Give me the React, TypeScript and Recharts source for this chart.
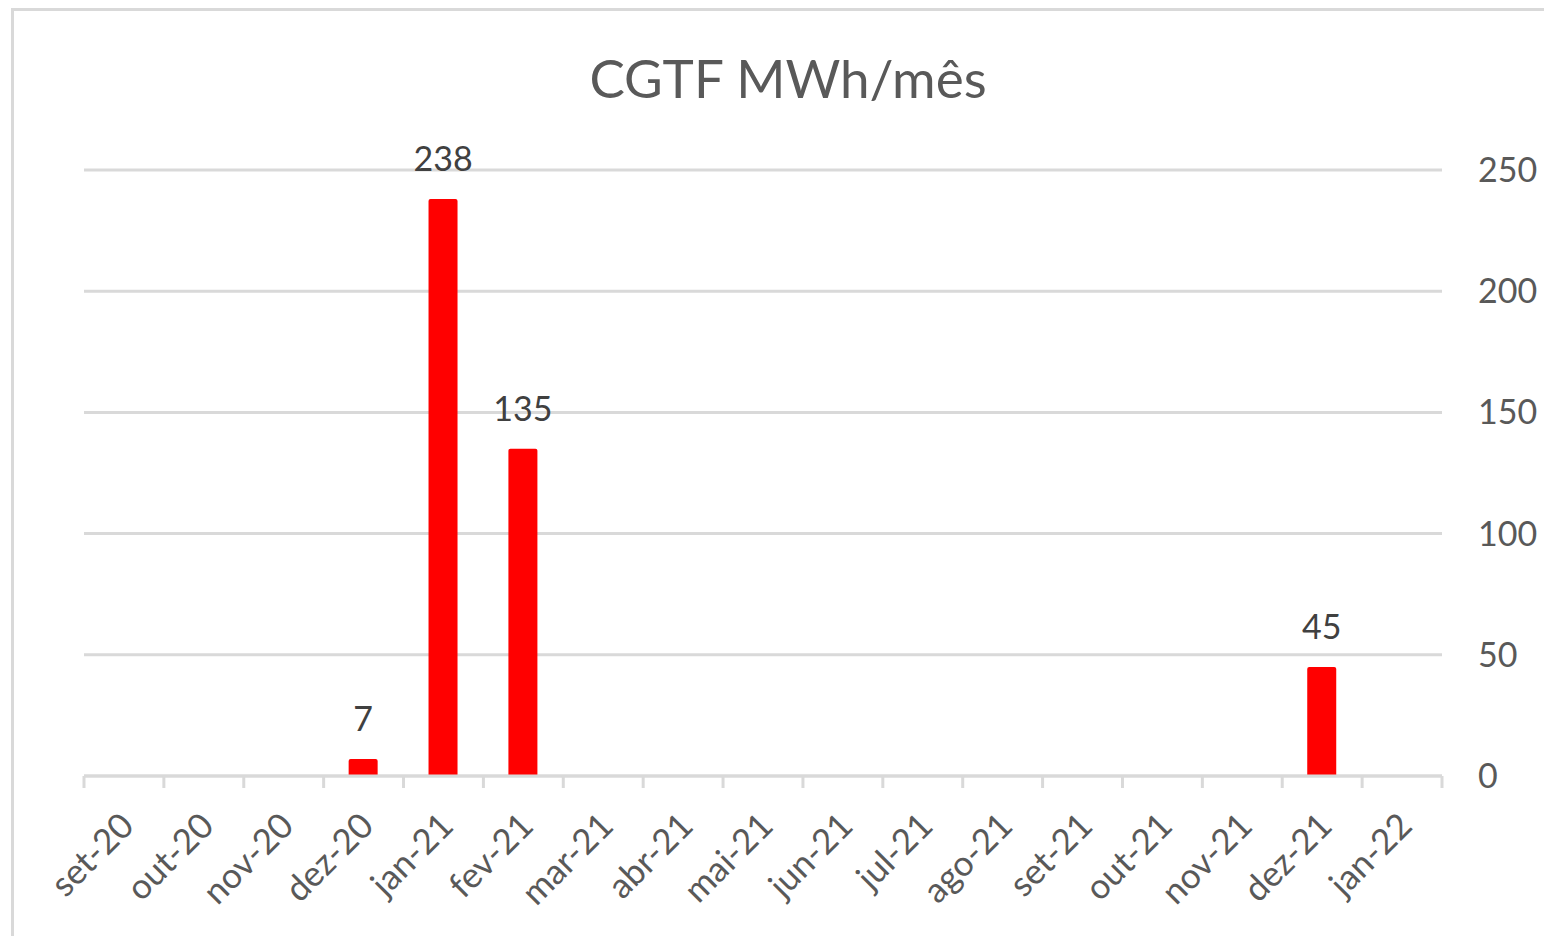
import React from 'react';
import { BarChart, Bar, XAxis, YAxis, CartesianGrid, LabelList } from 'recharts';

const months = ['set-20', 'out-20', 'nov-20', 'dez-20', 'jan-21', 'fev-21', 'mar-21', 'abr-21', 'mai-21', 'jun-21', 'jul-21', 'ago-21', 'set-21', 'out-21', 'nov-21', 'dez-21', 'jan-22'];
const values = [0, 0, 0, 7, 238, 135, 0, 0, 0, 0, 0, 0, 0, 0, 0, 45, 0];
const yTicks = [0, 50, 100, 150, 200, 250];
const title = 'CGTF MWh/mês';

const data = months.map((m, i) => ({ month: m, value: values[i] }));

const FONT = 'Lato, "Open Sans", sans-serif';
const GRID = '#d9d9d9';

const XTick = (props: any) => {
  const { x, y, payload, index } = props;
  const off = payload && payload.offset ? payload.offset : 0;
  const ay = y - 8;
  const tx = x + 12;
  const ty = ay + 52;
  return (
    <g>
      <line x1={x - off} x2={x - off} y1={ay} y2={ay + 12} stroke={GRID} strokeWidth={3} />
      {index === months.length - 1 && (
        <line x1={x + off} x2={x + off} y1={ay} y2={ay + 12} stroke={GRID} strokeWidth={3} />
      )}
      <text
        x={tx}
        y={ty}
        textAnchor="end"
        fill="#595959"
        fontSize={35}
        fontFamily={FONT}
        transform={`rotate(-45 ${tx} ${ty})`}
      >
        {payload.value}
      </text>
    </g>
  );
};

const ValueLabel = (props: any) => {
  const { x, y, width, value } = props;
  if (!value) return null;
  return (
    <text x={x + width / 2} y={y - 28} textAnchor="middle" fill="#404040" fontSize={34} fontFamily={FONT}>
      {value}
    </text>
  );
};

export default function App() {
  return (
    <div style={{ position: 'absolute', left: 0, top: 0, width: 1544, height: 936, background: '#fff', overflow: 'hidden' }}>
      <div
        style={{
          position: 'absolute',
          left: 11,
          top: 8,
          width: 1600,
          height: 1000,
          borderTop: `3px solid ${GRID}`,
          borderLeft: `3px solid ${GRID}`,
          boxSizing: 'border-box',
        }}
      />
      <div
        style={{
          position: 'absolute',
          left: 288,
          width: 1000,
          top: 46,
          textAlign: 'center',
          fontFamily: FONT,
          fontSize: 53,
          color: '#595959',
          lineHeight: '64px',
          whiteSpace: 'nowrap',
        }}
      >
        {title}
      </div>
      <div style={{ position: 'absolute', left: 0, top: 0 }}>
        <BarChart width={1544} height={936} data={data} margin={{ top: 170, right: 0, left: 84, bottom: 0 }}>
          <CartesianGrid horizontal vertical={false} stroke={GRID} strokeWidth={3} />
          <XAxis
            dataKey="month"
            interval={0}
            height={160}
            axisLine={{ stroke: GRID, strokeWidth: 3 }}
            tickLine={false}
            tick={<XTick />}
          />
          <YAxis
            orientation="right"
            width={102}
            domain={[0, 250]}
            ticks={yTicks}
            axisLine={false}
            tickLine={false}
            tickSize={0}
            tickMargin={36}
            tick={{ fill: '#595959', fontSize: 34, fontFamily: FONT, textAnchor: 'start' }}
          />
          <Bar dataKey="value" fill="#ff0000" barSize={29} radius={[2, 2, 0, 0]} isAnimationActive={false}>
            <LabelList dataKey="value" content={<ValueLabel />} />
          </Bar>
        </BarChart>
      </div>
    </div>
  );
}
